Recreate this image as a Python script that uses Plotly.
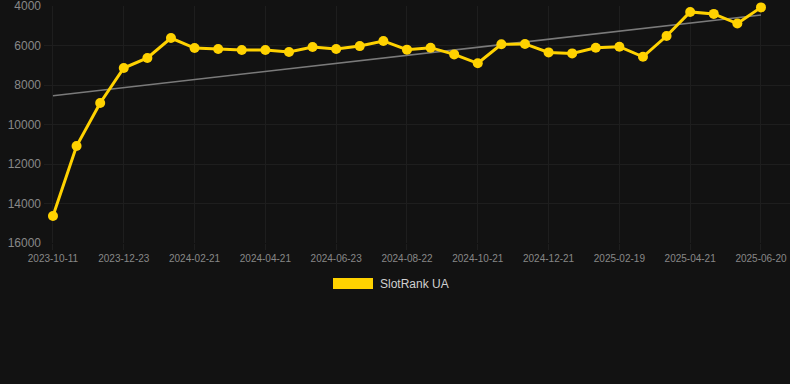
import plotly.graph_objects as go

dates = [
    "2023-10-11", "2023-11-05", "2023-11-29", "2023-12-23", "2024-01-12", "2024-02-01",
    "2024-02-21", "2024-03-12", "2024-04-01", "2024-04-21", "2024-05-12", "2024-06-02",
    "2024-06-23", "2024-07-13", "2024-08-02", "2024-08-22", "2024-09-11", "2024-10-01",
    "2024-10-21", "2024-11-10", "2024-12-01", "2024-12-21", "2025-01-10", "2025-01-30",
    "2025-02-19", "2025-03-11", "2025-03-31", "2025-04-21", "2025-05-11", "2025-05-31",
    "2025-06-20",
]
rank_ua = [
    14630, 11090, 8910, 7140, 6630, 5620,
    6130, 6180, 6230, 6230, 6330, 6080,
    6180, 6030, 5770, 6210, 6110, 6450,
    6900, 5940, 5920, 6350, 6400, 6110,
    6060, 6570, 5520, 4300, 4400, 4890,
    4070,
]
trend_dates = [dates[0], dates[-1]]
trend_values = [8540, 4456]
tick_labels = dates[::3]
y_ticks = [4000, 6000, 8000, 10000, 12000, 14000, 16000]
y_tick_text = ["4000", "6000", "8000", "10000", "12000", "14000", "16000"]
series_name = "SlotRank UA"

YELLOW = "#FFD200"
BG = "#121212"
GRID = "#1e1e1e"
FONT = "Arial, Liberation Sans, sans-serif"

fig = go.Figure()
fig.add_trace(go.Scatter(
    x=trend_dates, y=trend_values, mode="lines",
    line=dict(color="#7a7a7a", width=1.6), showlegend=False, hoverinfo="skip",
))
fig.add_trace(go.Scatter(
    x=dates, y=rank_ua, mode="lines+markers", name=series_name,
    line=dict(color=YELLOW, width=3),
    marker=dict(color=YELLOW, size=10),
    showlegend=False, cliponaxis=False,
))

fig.update_layout(
    width=790, height=384,
    paper_bgcolor=BG, plot_bgcolor=BG,
    margin=dict(l=44, r=0, t=6, b=141),
    font=dict(family=FONT, color="#888888"),
    xaxis=dict(
        type="category", categoryorder="array", categoryarray=dates,
        range=[-0.38, 31.23],
        tickmode="array", tickvals=tick_labels, ticktext=tick_labels,
        showgrid=True, gridcolor=GRID, gridwidth=1,
        ticks="outside", ticklen=6, tickcolor=GRID,
        tickfont=dict(size=10, color="#888888"),
        zeroline=False, showline=False, automargin=False,
        ticklabeloverflow="allow",
    ),
    yaxis=dict(
        range=[16000, 4000],
        tickmode="array", tickvals=y_ticks, ticktext=y_tick_text,
        showgrid=True, gridcolor=GRID, gridwidth=1,
        tickfont=dict(size=12, color="#888888"),
        ticks="", ticklabelstandoff=2,
        zeroline=False, showline=False, automargin=False,
        ticklabeloverflow="allow",
    ),
    showlegend=False,
)

# custom legend (rectangle swatch + label)
fig.add_shape(type="rect", xref="paper", yref="paper",
              x0=(333 - 44) / 746, x1=(373 - 44) / 746,
              y0=(243 - 289) / 237, y1=(243 - 278) / 237,
              fillcolor=YELLOW, line=dict(width=0))
fig.add_annotation(xref="paper", yref="paper",
                   x=(378 - 44) / 746, y=(243 - 284) / 237,
                   xanchor="left", yanchor="middle", showarrow=False,
                   text=series_name, font=dict(size=12, color="#d0d0d0", family=FONT))

fig.write_html("out.html", config={"displayModeBar": False},
               post_script="document.body.style.margin='0';document.body.style.background='#121212';")
